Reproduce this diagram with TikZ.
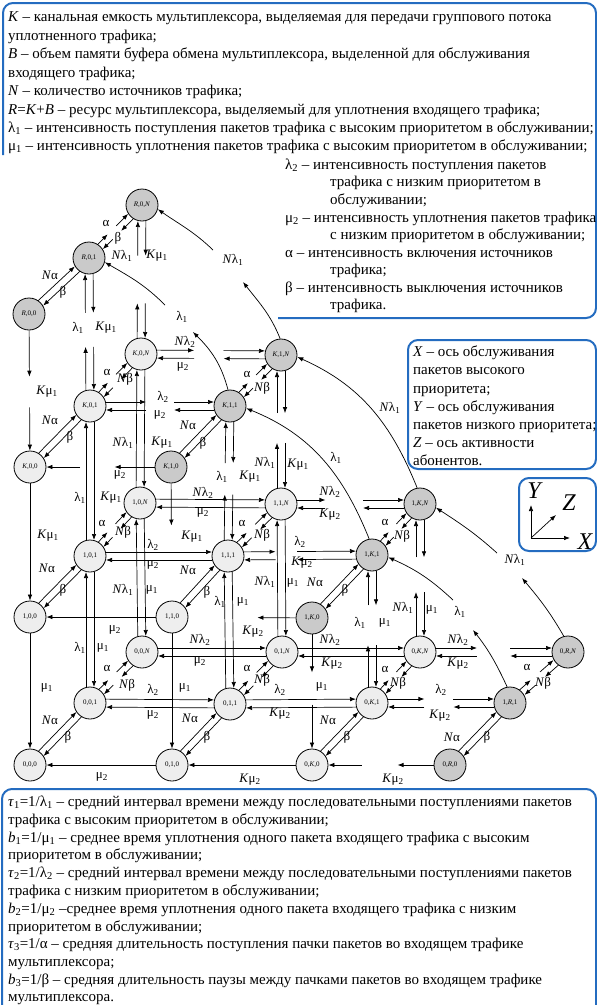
\documentclass[tikz,border=0pt]{standalone}
\usepackage{fontspec}
\setmainfont{Liberation Serif}
\usetikzlibrary{calc,arrows.meta}
\definecolor{boxblue}{RGB}{36,108,192}
\definecolor{nlight}{RGB}{238,238,238}
\definecolor{ndark}{RGB}{202,202,202}
\newcommand\myl[1]{λ\textsubscript{#1}}
\newcommand\mym[1]{μ\textsubscript{#1}}
\newcommand\iN{\textit{N}}
\newcommand\iK{\textit{K}}
\newcounter{lbc}
\newcounter{tlc}
\newcommand\lb[3]{\stepcounter{lbc}\node[lab] (lb\thelbc) at (#1,#2) {#3};}
\newcommand\tl[3]{\stepcounter{tlc}\node[txt] (tl\thetlc) at (#1,#2) {#3};}
\newcommand\PairC[4]{%
 \draw[ar,shorten <=16pt,shorten >=16pt] ($(#1)+(#3,#4)$) -- ($(#2)+(#3,#4)$);
 \draw[ar,shorten <=16pt,shorten >=16pt] ($(#2)-(#3,#4)$) -- ($(#1)-(#3,#4)$);}
\newcommand\PairB[6]{%
 \draw[ar,shorten <=16pt] ($(#1)+(#3,#4)$) -- ($(#1)!#5!(#2)+(#3,#4)$);
 \draw[ar,shorten >=16pt] ($(#1)!#6!(#2)+(#3,#4)$) -- ($(#2)+(#3,#4)$);
 \draw[ar,shorten <=16pt] ($(#2)-(#3,#4)$) -- ($(#1)!#6!(#2)-(#3,#4)$);
 \draw[ar,shorten >=16pt] ($(#1)!#5!(#2)-(#3,#4)$) -- ($(#1)-(#3,#4)$);}
\tikzset{
 st/.style={circle,draw,line width=0.8pt,minimum size=32pt,inner sep=0pt,font=\fontsize{7}{8}\selectfont},
 lt/.style={st,fill=nlight},
 dk/.style={st,fill=ndark},
 ar/.style={-{Latex[length=6pt,width=4.5pt]},line width=0.7pt},
 lab/.style={font=\fontsize{13}{15}\selectfont,inner sep=0pt},
 txt/.style={anchor=base west,font=\fontsize{15}{17}\selectfont,inner sep=0pt},
 bx/.style={draw=boxblue,line width=2pt,rounded corners=10pt},
 axl/.style={font=\fontsize{24}{24}\selectfont\itshape,inner sep=0pt},
}
\begin{document}
\begin{tikzpicture}[x=1pt,y=-1pt]
\useasboundingbox (0,0) rectangle (597,1005);
\clip (0,0) rectangle (597,1005);
% boxes
\draw[bx] (3,155) -- (3,3) -- (596,3) -- (596,318) -- (278,318);
\draw[bx] (408,340) rectangle (596,469);
\draw[bx] (519,478) rectangle (596,551);
\draw[bx] (2,789) rectangle (596,1030);
% top text
\tl{8}{21}{\textit{K} – канальная емкость мультиплексора, выделяемая для передачи группового потока}
\tl{8}{40}{уплотненного трафика;}
\tl{8}{58}{\textit{B} – объем памяти буфера обмена мультиплексора, выделенной для обслуживания}
\tl{8}{77}{входящего трафика;}
\tl{8}{95}{\textit{N} – количество источников трафика;}
\tl{8}{114}{\textit{R}=\textit{K}+\textit{B} – ресурс мультиплексора, выделяемый для уплотнения входящего трафика;}
\tl{8}{132}{\myl1 – интенсивность поступления пакетов трафика с высоким приоритетом в обслуживании;}
\tl{8}{150}{\mym1 – интенсивность уплотнения пакетов трафика с высоким приоритетом в обслуживании;}
\tl{285}{169}{\myl2 – интенсивность поступления пакетов}
\tl{330}{186}{трафика с низким приоритетом в}
\tl{330}{204}{обслуживании;}
\tl{285}{222}{\mym2 – интенсивность уплотнения пакетов трафика}
\tl{330}{239}{с низким приоритетом в обслуживании;}
\tl{285}{257}{α – интенсивность включения источников}
\tl{330}{274}{трафика;}
\tl{285}{292}{β – интенсивность выключения источников}
\tl{330}{309}{трафика.}
% axis text
\tl{413}{356}{\textit{X} – ось обслуживания}
\tl{413}{374}{пакетов высокого}
\tl{413}{393}{приоритета;}
\tl{413}{411}{\textit{Y} – ось обслуживания}
\tl{413}{429}{пакетов низкого приоритета;}
\tl{413}{447}{\textit{Z} – ось активности}
\tl{413}{465}{абонентов.}
% bottom text
\tl{8}{806}{\textit{τ}\textsubscript{1}=1/\myl1 – средний интервал времени между последовательными поступлениями пакетов}
\tl{8}{824}{трафика с высоким приоритетом в обслуживании;}
\tl{8}{842}{\textit{b}\textsubscript{1}=1/\mym1 – среднее время уплотнения одного пакета входящего трафика с высоким}
\tl{8}{859}{приоритетом в обслуживании;}
\tl{8}{877}{\textit{τ}\textsubscript{2}=1/\myl2 – средний интервал времени между последовательными поступлениями пакетов}
\tl{8}{895}{трафика с низким приоритетом в обслуживании;}
\tl{8}{913}{\textit{b}\textsubscript{2}=1/\mym2 –среднее время уплотнения одного пакета входящего трафика с низким}
\tl{8}{931}{приоритетом в обслуживании;}
\tl{8}{948}{\textit{τ}\textsubscript{3}=1/α – средняя длительность поступления пачки пакетов во входящем трафике}
\tl{8}{966}{мультиплексора;}
\tl{8}{984}{\textit{b}\textsubscript{3}=1/β – средняя длительность паузы между пачками пакетов во входящем трафике}
\tl{8}{1001}{мультиплексора.}
% axes
\coordinate (ax0) at (531,538);
\coordinate (axy) at (531,505);
\coordinate (axx) at (570,538);
\coordinate (axz) at (556,515);
\draw[ar] (ax0) -- (axy);
\draw[ar] (ax0) -- (axx);
\draw[ar] (ax0) -- (axz);
\node[axl] (aY) at (534,491) {Y};
\node[axl] (aZ) at (569,503) {Z};
\node[axl] (aX) at (585,542) {X};
% nodes
\node[dk] (nR0N) at (142,205) {\textit{R},0,\textit{N}};
\node[dk] (nR01) at (89,258) {\textit{R},0,1};
\node[dk] (nR00) at (29,314) {\textit{R},0,0};
\node[lt] (nK0N) at (141,354) {\textit{K},0,\textit{N}};
\node[lt] (nK01) at (90,406) {\textit{K},0,1};
\node[lt] (nK00) at (30,467) {\textit{K},0,0};
\node[dk] (nK1N) at (281,355) {\textit{K},1,\textit{N}};
\node[dk] (nK11) at (230,406) {\textit{K},1,1};
\node[dk] (nK10) at (171,467) {\textit{K},1,0};
\node[lt] (n10N) at (140,503) {1,0,\textit{N}};
\node[lt] (n101) at (90,556) {1,0,1};
\node[lt] (n100) at (30,617) {1,0,0};
\node[lt] (n11N) at (281,504) {1,1,\textit{N}};
\node[lt] (n111) at (228,556) {1,1,1};
\node[lt] (n110) at (172,617) {1,1,0};
\node[dk] (n1KN) at (420,504) {1,\textit{K},\textit{N}};
\node[dk] (n1K1) at (372,555) {1,\textit{K},1};
\node[dk] (n1K0) at (312,618) {1,\textit{K},0};
\node[lt] (n00N) at (142,652) {0,0,\textit{N}};
\node[lt] (n001) at (90,703) {0,0,1};
\node[lt] (n000) at (30,765) {0,0,0};
\node[lt] (n01N) at (282,652) {0,1,\textit{N}};
\node[lt] (n011) at (230,704) {0,1,1};
\node[lt] (n010) at (172,765) {0,1,0};
\node[lt] (n0KN) at (420,652) {0,\textit{K},\textit{N}};
\node[lt] (n0K1) at (372,703) {0,\textit{K},1};
\node[lt] (n0K0) at (312,765) {0,\textit{K},0};
\node[dk] (n0RN) at (568,652) {0,\textit{R},\textit{N}};
\node[dk] (n1R1) at (510,703) {1,\textit{R},1};
\node[dk] (n0R0) at (450,765) {0,\textit{R},0};
% diagonal continuous
\PairC{nR00}{nR01}{-2.5pt}{2.5pt}
\PairC{nK00}{nK01}{-2.5pt}{2.5pt}
\PairC{nK10}{nK11}{-2.5pt}{2.5pt}
\PairC{n100}{n101}{-2.5pt}{2.5pt}
\PairC{n110}{n111}{-2.5pt}{2.5pt}
\PairC{n1K0}{n1K1}{-2.5pt}{2.5pt}
\PairC{n000}{n001}{-2.5pt}{2.5pt}
\PairC{n010}{n011}{-2.5pt}{2.5pt}
\PairC{n0K0}{n0K1}{-2.5pt}{2.5pt}
\PairC{n0R0}{n1R1}{-2.5pt}{2.5pt}
% diagonal broken
\PairB{nR01}{nR0N}{-2.5pt}{2.5pt}{0.4}{0.56}
\PairB{nK01}{nK0N}{-2.5pt}{2.5pt}{0.4}{0.56}
\PairB{nK11}{nK1N}{-2.5pt}{2.5pt}{0.4}{0.56}
\PairB{n101}{n10N}{-2.5pt}{2.5pt}{0.4}{0.56}
\PairB{n111}{n11N}{-2.5pt}{2.5pt}{0.4}{0.56}
\PairB{n1K1}{n1KN}{-2.5pt}{2.5pt}{0.4}{0.56}
\PairB{n001}{n00N}{-2.5pt}{2.5pt}{0.4}{0.56}
\PairB{n011}{n01N}{-2.5pt}{2.5pt}{0.4}{0.56}
\PairB{n0K1}{n0KN}{-2.5pt}{2.5pt}{0.4}{0.56}
\PairB{n1R1}{n0RN}{-2.5pt}{2.5pt}{0.4}{0.56}
% vertical continuous
\PairC{n101}{nK01}{-4pt}{0pt}
\PairC{n001}{n101}{-4pt}{0pt}
\PairC{n10N}{nK0N}{-4pt}{0pt}
\PairC{n00N}{n10N}{-4pt}{0pt}
\PairC{n011}{n111}{-4pt}{0pt}
\PairC{n01N}{n11N}{-4pt}{0pt}
% vertical broken
\PairB{nK01}{nR01}{-4pt}{0pt}{0.40}{0.63}
\PairB{nK0N}{nR0N}{-4pt}{0pt}{0.34}{0.66}
\PairB{n111}{nK11}{-4pt}{0pt}{0.41}{0.62}
\PairB{n11N}{nK1N}{-4pt}{0pt}{0.41}{0.61}
\PairB{n0K1}{n1K1}{-4pt}{0pt}{0.39}{0.66}
\PairB{n0KN}{n1KN}{-4pt}{0pt}{0.405}{0.64}
% horizontal continuous
\PairC{n101}{n111}{0pt}{4pt}
\PairC{n10N}{n11N}{0pt}{4pt}
\PairC{n001}{n011}{0pt}{4pt}
\PairC{n011}{n0K1}{0pt}{4pt}
\PairC{n00N}{n01N}{0pt}{4pt}
\PairC{n01N}{n0KN}{0pt}{4pt}
% horizontal broken
\PairB{nK01}{nK11}{0pt}{4pt}{0.40}{0.60}
\PairB{nK0N}{nK1N}{0pt}{4pt}{0.38}{0.59}
\PairB{n111}{n1K1}{0pt}{4pt}{0.33}{0.48}
\PairB{n11N}{n1KN}{0pt}{4pt}{0.32}{0.59}
\PairB{n0K1}{n1R1}{0pt}{4pt}{0.38}{0.59}
\PairB{n0KN}{n0RN}{0pt}{4pt}{0.385}{0.61}
% single arrows
\draw[ar] (nR00) -- ($(nR00)!0.41!(nK00)$);
\draw[ar] ($(nR00)!0.61!(nK00)$) -- (nK00);
\draw[ar] (nK00) -- (n100);
\draw[ar] (n100) -- (n000);
\draw[ar] (nK10) -- ($(nK10)!0.39!(n110)$);
\draw[ar] (n110) -- (n010);
\draw[ar] (n1K0) -- ($(n1K0)!0.37!(n0K0)$);
\draw[ar] ($(n1K0)!0.59!(n0K0)$) -- (n0K0);
\draw[ar] (n010) -- (n000);
\draw[ar] (n0K0) -- (n010);
\draw[ar] (n0R0) -- ($(n0R0)!0.38!(n0K0)$);
\draw[ar] ($(n0R0)!0.64!(n0K0)$) -- (n0K0);
\draw[ar] (n110) -- (n100);
\draw[ar] (n1K0) -- ($(n1K0)!0.39!(n110)$);
\draw[ar] (nK10) -- ($(nK10)!0.40!(nK00)$);
\draw[ar] ($(nK10)!0.645!(nK00)$) -- (nK00);
% curves
\coordinate (c1a) at (193,332); \coordinate (c1b) at (165,305);
\draw[ar] (nK11.97) to[out=105,in=-45] (c1a);
\draw[ar] (c1b) to[out=135,in=-30] (nR01.-15);
\coordinate (c2a) at (243,282); \coordinate (c2b) at (213,250);
\draw[ar] (nK1N.93) to[out=112,in=-52] (c2a);
\draw[ar] (c2b) to[out=136,in=-35] (nR0N.-15);
\draw[ar] (n1K1.100) to[out=112,in=-22] (nK11.-8);
\draw[ar] (n1KN.100) to[out=112,in=-24] (nK1N.-7);
\coordinate (c5a) at (473,630); \coordinate (c5b) at (453,600);
\draw[ar] (n1R1.100) to[out=115,in=-52] (c5a);
\draw[ar] (c5b) to[out=137,in=-24] (n1K1.-8);
\coordinate (c6a) at (522,578); \coordinate (c6b) at (497,553);
\draw[ar] (n0RN.105) to[out=120,in=-50] (c6a);
\draw[ar] (c6b) to[out=138,in=-33] (n1KN.-13);
% diagonal labels
\lb{50}{275}{\iN α}\lb{63}{292}{β}\lb{106}{223}{α}\lb{118}{238}{β}
\lb{50}{420}{\iN α}\lb{70}{437}{β}\lb{107}{372}{α}\lb{125}{379}{\iN β}
\lb{188}{425}{\iN α}\lb{203}{443}{β}\lb{247}{374}{α}\lb{262}{388}{\iN β}
\lb{47}{568}{\iN α}\lb{63}{590}{β}\lb{102}{523}{α}\lb{123}{532}{\iN β}
\lb{188}{570}{\iN α}\lb{207}{592}{β}\lb{242}{523}{α}\lb{262}{535}{\iN β}
\lb{315}{582}{\iN α}\lb{345}{590}{β}\lb{385}{522}{α}\lb{402}{536}{\iN β}
\lb{50}{720}{\iN α}\lb{68}{737}{β}\lb{107}{668}{α}\lb{127}{685}{\iN β}
\lb{190}{718}{\iN α}\lb{207}{737}{β}\lb{247}{668}{α}\lb{262}{680}{\iN β}
\lb{328}{720}{\iN α}\lb{347}{737}{β}\lb{385}{669}{α}\lb{398}{683}{\iN β}
\lb{452}{737}{\iN α}\lb{487}{737}{β}\lb{527}{667}{α}\lb{543}{683}{\iN β}
% vertical labels
\lb{47}{392}{\iK\mym1}
\lb{48}{536}{\iK\mym1}
\lb{47}{688}{\mym1}
\lb{78}{328}{\myl1}\lb{106}{328}{\iK\mym1}
\lb{80}{498}{\myl1}\lb{111}{498}{\iK\mym1}
\lb{80}{648}{\myl1}\lb{103}{648}{\mym1}
\lb{122}{256}{\iN\myl1}\lb{157}{256}{\iK\mym1}
\lb{123}{443}{\iN\myl1}\lb{162}{443}{\iK\mym1}
\lb{123}{590}{\iN\myl1}\lb{152}{590}{\mym1}
\lb{192}{537}{\iK\mym1}
\lb{185}{688}{\mym1}
\lb{222}{477}{\myl1}\lb{250}{477}{\iK\mym1}
\lb{220}{602}{\myl1}\lb{243}{602}{\mym1}
\lb{265}{463}{\iN\myl1}\lb{298}{465}{\iK\mym1}
\lb{265}{582}{\iN\myl1}\lb{293}{583}{\mym1}
\lb{322}{687}{\mym1}
\lb{360}{623}{\myl1}\lb{385}{623}{\mym1}
\lb{403}{608}{\iN\myl1}\lb{432}{610}{\mym1}
% horizontal labels
\lb{102}{777}{\mym2}
\lb{250}{780}{\iK\mym2}
\lb{393}{780}{\iK\mym2}
\lb{153}{690}{\myl2}\lb{153}{715}{\mym2}
\lb{280}{690}{\myl2}\lb{280}{714}{\iK\mym2}
\lb{441}{690}{\myl2}\lb{440}{716}{\iK\mym2}
\lb{200}{640}{\iN\myl2}\lb{200}{662}{\mym2}
\lb{330}{640}{\iN\myl2}\lb{332}{664}{\iK\mym2}
\lb{458}{640}{\iN\myl2}\lb{458}{664}{\iK\mym2}
\lb{115}{630}{\mym2}
\lb{253}{632}{\iK\mym2}
\lb{153}{545}{\myl2}\lb{153}{565}{\mym2}
\lb{300}{542}{\myl2}\lb{302}{563}{\iK\mym2}
\lb{203}{493}{\iN\myl2}\lb{203}{513}{\mym2}
\lb{330}{492}{\iN\myl2}\lb{330}{515}{\iK\mym2}
\lb{120}{475}{\mym2}
\lb{163}{397}{\myl2}\lb{160}{415}{\mym2}
\lb{185}{342}{\iN\myl2}\lb{183}{367}{\mym2}
% curve labels
\lb{182}{317}{\myl1}
\lb{233}{260}{\iN\myl1}
\lb{336}{458}{\myl1}
\lb{390}{408}{\iN\myl1}
\lb{460}{612}{\myl1}
\lb{515}{560}{\iN\myl1}
\end{tikzpicture}
\end{document}
